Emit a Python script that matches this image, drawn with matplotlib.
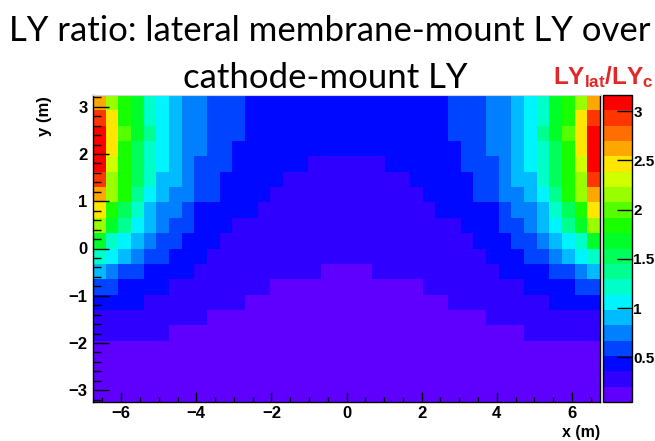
import numpy as np
import matplotlib
matplotlib.use("Agg")
import matplotlib.pyplot as plt
from matplotlib.colors import ListedColormap, BoundaryNorm

# LY_lat / LY_cath per (x, y) bin, rows from top (y = 3.25) to bottom (y = -3.25)
ratio = [
    [2.62, 2.15, 1.84, 1.68, 1.22, 1.06, 0.90, 0.75, 0.75, 0.59, 0.59, 0.59, 0.44, 0.44, 0.44, 0.44, 0.44, 0.44, 0.44, 0.44,
     0.44, 0.44, 0.44, 0.44, 0.44, 0.44, 0.44, 0.44, 0.59, 0.59, 0.59, 0.75, 0.75, 0.90, 1.06, 1.22, 1.68, 1.84, 2.15, 2.62],
    [2.93, 2.46, 1.84, 1.68, 1.22, 1.06, 0.90, 0.75, 0.75, 0.59, 0.59, 0.59, 0.44, 0.44, 0.44, 0.44, 0.44, 0.44, 0.44, 0.44,
     0.44, 0.44, 0.44, 0.44, 0.44, 0.44, 0.44, 0.44, 0.59, 0.59, 0.59, 0.75, 0.75, 0.90, 1.06, 1.22, 1.68, 1.84, 2.46, 2.93],
    [3.09, 2.46, 2.00, 1.68, 1.37, 1.06, 0.90, 0.75, 0.75, 0.59, 0.59, 0.59, 0.44, 0.44, 0.44, 0.44, 0.44, 0.44, 0.44, 0.44,
     0.44, 0.44, 0.44, 0.44, 0.44, 0.44, 0.44, 0.44, 0.59, 0.59, 0.59, 0.75, 0.75, 0.90, 1.06, 1.37, 1.68, 2.00, 2.46, 3.09],
    [3.09, 2.46, 1.84, 1.53, 1.22, 1.06, 0.90, 0.75, 0.75, 0.59, 0.59, 0.44, 0.44, 0.44, 0.44, 0.44, 0.44, 0.44, 0.44, 0.44,
     0.44, 0.44, 0.44, 0.44, 0.44, 0.44, 0.44, 0.44, 0.44, 0.59, 0.59, 0.75, 0.75, 0.90, 1.06, 1.22, 1.53, 1.84, 2.46, 3.09],
    [3.09, 2.31, 1.84, 1.53, 1.22, 1.06, 0.90, 0.75, 0.59, 0.59, 0.59, 0.44, 0.44, 0.44, 0.44, 0.44, 0.44, 0.28, 0.28, 0.28,
     0.28, 0.28, 0.28, 0.44, 0.44, 0.44, 0.44, 0.44, 0.44, 0.59, 0.59, 0.59, 0.75, 0.90, 1.06, 1.22, 1.53, 1.84, 2.31, 3.09],
    [2.93, 2.15, 1.84, 1.53, 1.22, 0.90, 0.90, 0.75, 0.59, 0.59, 0.44, 0.44, 0.44, 0.44, 0.44, 0.28, 0.28, 0.28, 0.28, 0.28,
     0.28, 0.28, 0.28, 0.28, 0.28, 0.44, 0.44, 0.44, 0.44, 0.44, 0.59, 0.59, 0.75, 0.90, 0.90, 1.22, 1.53, 1.84, 2.15, 2.93],
    [2.62, 2.15, 1.84, 1.37, 1.06, 0.90, 0.75, 0.75, 0.59, 0.59, 0.44, 0.44, 0.44, 0.44, 0.28, 0.28, 0.28, 0.28, 0.28, 0.28,
     0.28, 0.28, 0.28, 0.28, 0.28, 0.28, 0.44, 0.44, 0.44, 0.44, 0.59, 0.59, 0.75, 0.75, 0.90, 1.06, 1.37, 1.84, 2.15, 2.62],
    [2.46, 1.84, 1.53, 1.22, 0.90, 0.75, 0.75, 0.59, 0.44, 0.44, 0.44, 0.44, 0.44, 0.28, 0.28, 0.28, 0.28, 0.28, 0.28, 0.28,
     0.28, 0.28, 0.28, 0.28, 0.28, 0.28, 0.28, 0.44, 0.44, 0.44, 0.44, 0.44, 0.59, 0.75, 0.75, 0.90, 1.22, 1.53, 1.84, 2.46],
    [2.15, 1.68, 1.37, 1.06, 0.90, 0.75, 0.59, 0.59, 0.44, 0.44, 0.44, 0.28, 0.28, 0.28, 0.28, 0.28, 0.28, 0.28, 0.28, 0.28,
     0.28, 0.28, 0.28, 0.28, 0.28, 0.28, 0.28, 0.28, 0.28, 0.44, 0.44, 0.44, 0.59, 0.59, 0.75, 0.90, 1.06, 1.37, 1.68, 2.15],
    [1.68, 1.22, 1.06, 0.90, 0.75, 0.59, 0.59, 0.44, 0.44, 0.44, 0.28, 0.28, 0.28, 0.28, 0.28, 0.28, 0.28, 0.28, 0.28, 0.28,
     0.28, 0.28, 0.28, 0.28, 0.28, 0.28, 0.28, 0.28, 0.28, 0.28, 0.44, 0.44, 0.44, 0.59, 0.59, 0.75, 0.90, 1.06, 1.22, 1.68],
    [1.22, 1.06, 0.90, 0.75, 0.59, 0.59, 0.44, 0.44, 0.44, 0.28, 0.28, 0.28, 0.28, 0.28, 0.28, 0.28, 0.28, 0.28, 0.28, 0.28,
     0.28, 0.28, 0.28, 0.28, 0.28, 0.28, 0.28, 0.28, 0.28, 0.28, 0.28, 0.44, 0.44, 0.44, 0.59, 0.59, 0.75, 0.90, 1.06, 1.22],
    [0.90, 0.75, 0.59, 0.59, 0.44, 0.44, 0.44, 0.44, 0.28, 0.28, 0.28, 0.28, 0.28, 0.28, 0.28, 0.28, 0.28, 0.28, 0.12, 0.12,
     0.12, 0.12, 0.28, 0.28, 0.28, 0.28, 0.28, 0.28, 0.28, 0.28, 0.28, 0.28, 0.44, 0.44, 0.44, 0.44, 0.59, 0.59, 0.75, 0.90],
    [0.59, 0.59, 0.44, 0.44, 0.44, 0.44, 0.28, 0.28, 0.28, 0.28, 0.28, 0.28, 0.28, 0.28, 0.12, 0.12, 0.12, 0.12, 0.12, 0.12,
     0.12, 0.12, 0.12, 0.12, 0.12, 0.12, 0.28, 0.28, 0.28, 0.28, 0.28, 0.28, 0.28, 0.28, 0.44, 0.44, 0.44, 0.44, 0.59, 0.59],
    [0.44, 0.44, 0.44, 0.44, 0.28, 0.28, 0.28, 0.28, 0.28, 0.28, 0.28, 0.28, 0.12, 0.12, 0.12, 0.12, 0.12, 0.12, 0.12, 0.12,
     0.12, 0.12, 0.12, 0.12, 0.12, 0.12, 0.12, 0.12, 0.28, 0.28, 0.28, 0.28, 0.28, 0.28, 0.28, 0.28, 0.44, 0.44, 0.44, 0.44],
    [0.28, 0.28, 0.28, 0.28, 0.28, 0.28, 0.28, 0.28, 0.28, 0.12, 0.12, 0.12, 0.12, 0.12, 0.12, 0.12, 0.12, 0.12, 0.12, 0.12,
     0.12, 0.12, 0.12, 0.12, 0.12, 0.12, 0.12, 0.12, 0.12, 0.12, 0.12, 0.28, 0.28, 0.28, 0.28, 0.28, 0.28, 0.28, 0.28, 0.28],
    [0.28, 0.28, 0.28, 0.28, 0.28, 0.28, 0.12, 0.12, 0.12, 0.12, 0.12, 0.12, 0.12, 0.12, 0.12, 0.12, 0.12, 0.12, 0.12, 0.12,
     0.12, 0.12, 0.12, 0.12, 0.12, 0.12, 0.12, 0.12, 0.12, 0.12, 0.12, 0.12, 0.12, 0.12, 0.28, 0.28, 0.28, 0.28, 0.28, 0.28],
    [0.12, 0.12, 0.12, 0.12, 0.12, 0.12, 0.12, 0.12, 0.12, 0.12, 0.12, 0.12, 0.12, 0.12, 0.12, 0.12, 0.12, 0.12, 0.12, 0.12,
     0.12, 0.12, 0.12, 0.12, 0.12, 0.12, 0.12, 0.12, 0.12, 0.12, 0.12, 0.12, 0.12, 0.12, 0.12, 0.12, 0.12, 0.12, 0.12, 0.12],
    [0.12, 0.12, 0.12, 0.12, 0.12, 0.12, 0.12, 0.12, 0.12, 0.12, 0.12, 0.12, 0.12, 0.12, 0.12, 0.12, 0.12, 0.12, 0.12, 0.12,
     0.12, 0.12, 0.12, 0.12, 0.12, 0.12, 0.12, 0.12, 0.12, 0.12, 0.12, 0.12, 0.12, 0.12, 0.12, 0.12, 0.12, 0.12, 0.12, 0.12],
    [0.12, 0.12, 0.12, 0.12, 0.12, 0.12, 0.12, 0.12, 0.12, 0.12, 0.12, 0.12, 0.12, 0.12, 0.12, 0.12, 0.12, 0.12, 0.12, 0.12,
     0.12, 0.12, 0.12, 0.12, 0.12, 0.12, 0.12, 0.12, 0.12, 0.12, 0.12, 0.12, 0.12, 0.12, 0.12, 0.12, 0.12, 0.12, 0.12, 0.12],
    [0.12, 0.12, 0.12, 0.12, 0.12, 0.12, 0.12, 0.12, 0.12, 0.12, 0.12, 0.12, 0.12, 0.12, 0.12, 0.12, 0.12, 0.12, 0.12, 0.12,
     0.12, 0.12, 0.12, 0.12, 0.12, 0.12, 0.12, 0.12, 0.12, 0.12, 0.12, 0.12, 0.12, 0.12, 0.12, 0.12, 0.12, 0.12, 0.12, 0.12],
]

x_range = (-6.75, 6.75)
y_range = (-3.25, 3.25)
z_range = (0.045, 3.165)
n_contours = 20
cbar_ticks = [0.5, 1, 1.5, 2, 2.5, 3]
cbar_labels = ['0.5', '1', '1.5', '2', '2.5', '3']

# ROOT-like rainbow palette, one colour per contour band (low -> high)
palette = ['#5f00ff', '#3000ff', '#0008ff', '#0044ff', '#0080ff', '#00bbff', '#00f4ff',
           '#00ffc8', '#00ff90', '#00ff5a', '#00ff28', '#18ff00', '#55ff00', '#99ff00',
           '#d0ff00', '#ffe600', '#ffa600', '#ff6e00', '#ff3600', '#ff0000']

z = np.flipud(np.array(ratio))
ny, nx = z.shape
x_edges = np.linspace(x_range[0], x_range[1], nx + 1)
y_edges = np.linspace(y_range[0], y_range[1], ny + 1)
levels = np.linspace(z_range[0], z_range[1], n_contours + 1)

cmap = ListedColormap(palette)
norm = BoundaryNorm(levels, cmap.N)

plt.rcParams['mathtext.fontset'] = 'custom'
plt.rcParams['mathtext.bf'] = 'Liberation Sans:bold'
plt.rcParams['mathtext.rm'] = 'Liberation Sans'

root_font = ['Liberation Sans Narrow', 'Liberation Sans']

W, H = 655, 441
fig = plt.figure(figsize=(W / 100, H / 100), dpi=100)
ax = fig.add_axes([93 / W, 1 - 402 / H, 507 / W, 307 / H])
mesh = ax.pcolormesh(x_edges, y_edges, z, cmap=cmap, norm=norm)
ax.set_xlim(*x_range)
ax.set_ylim(*y_range)

ax.set_xticks(np.arange(-6, 7, 2))
ax.set_xticks(np.arange(-6.5, 6.75, 0.5), minor=True)
ax.set_yticks(np.arange(-3, 4, 1))
ax.set_yticks(np.arange(-3.2, 3.25, 0.2), minor=True)
ax.tick_params(axis='x', which='major', direction='in', length=7, width=1, pad=3)
ax.tick_params(axis='x', which='minor', direction='in', length=3.5, width=1)
ax.tick_params(axis='y', which='major', direction='in', length=11.5, width=1, pad=4)
ax.tick_params(axis='y', which='minor', direction='in', length=6, width=1)
for lab in ax.get_xticklabels() + ax.get_yticklabels():
    lab.set_fontfamily(root_font)
    lab.set_fontweight('bold')
    lab.set_fontsize(12)
for side in ['left', 'bottom', 'right']:
    ax.spines[side].set_linewidth(1)
ax.spines['top'].set_color('#d8d8d8')

cax = fig.add_axes([603 / W, 1 - 402 / H, 29 / W, 307 / H])
cb = fig.colorbar(mesh, cax=cax, ticks=cbar_ticks)
cb.ax.set_yticklabels(cbar_labels)
cb.ax.tick_params(direction='in', length=11, width=1, pad=1)
cb.ax.minorticks_off()
cb.outline.set_linewidth(1)
for lab in cb.ax.get_yticklabels():
    lab.set_fontfamily(root_font)
    lab.set_fontweight('bold')
    lab.set_fontsize(11)

fig.text(45 / W, 1 - 96 / H, 'y (m)', rotation=90, ha='center', va='top',
         fontsize=12, fontweight='bold', family=root_font)
fig.text(600 / W, 1 - 432 / H, 'x (m)', ha='right', va='center',
         fontsize=11.5, fontweight='bold', family=root_font)

fig.text(330 / W, 1 - 41 / H, 'LY ratio: lateral membrane-mount LY over', ha='center',
         va='baseline', fontsize=25, family='Lato')
fig.text(325 / W, 1 - 88 / H, 'cathode-mount LY', ha='center', va='baseline',
         fontsize=25, family='Lato')
fig.text(553 / W, 1 - 84 / H, r'$\mathbf{LY_{lat}/LY_{c}}$', ha='left', va='baseline',
         fontsize=17.5, color='#e02828')

fig.savefig('out.png', dpi=100)
